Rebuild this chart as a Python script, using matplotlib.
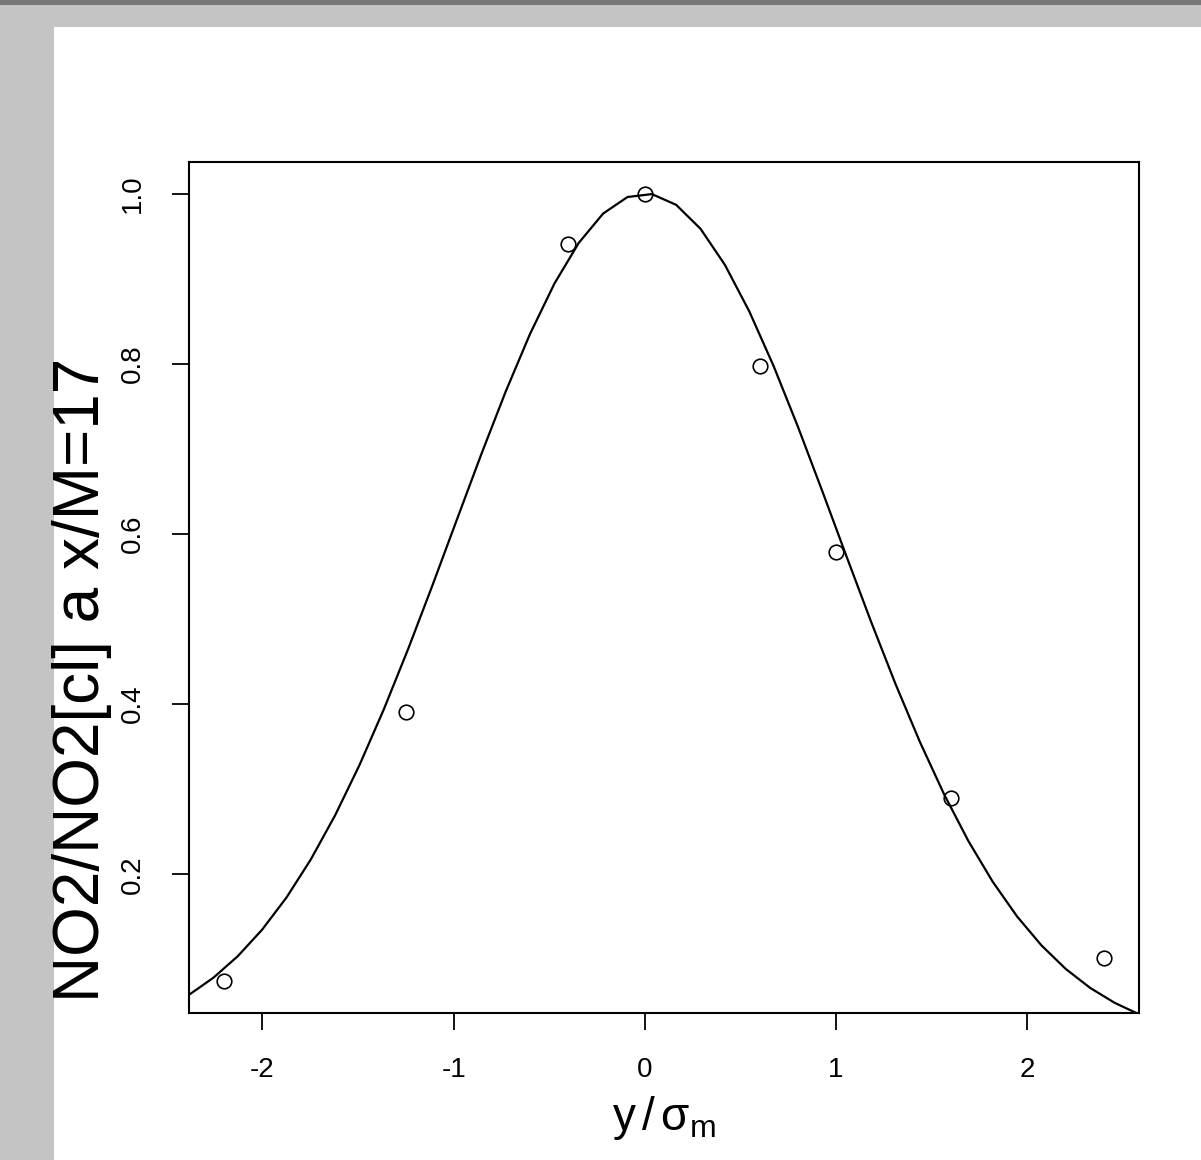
import numpy as np
import matplotlib
matplotlib.use("Agg")
import matplotlib.pyplot as plt
from matplotlib.patches import Rectangle

plt.rcParams['font.family'] = ['Liberation Sans', 'DejaVu Sans']
plt.rcParams['mathtext.fontset'] = 'custom'
plt.rcParams['mathtext.rm'] = 'Liberation Sans'
plt.rcParams['mathtext.it'] = 'Liberation Sans'

# observed points
y_sigma = [-2.2, -1.25, -0.4, 0.0, 0.6, 1.0, 1.6, 2.4]
no2_ratio = [0.074, 0.391, 0.941, 1.0, 0.797, 0.579, 0.290, 0.102]

# fitted gaussian profile, width 1 (in y/sigma_m units)
sigma_fit = 1.0
n_curve = 40

xticks = [-2, -1, 0, 1, 2]
yticks = [0.2, 0.4, 0.6, 0.8, 1.0]

W, H = 1201, 1160
fig = plt.figure(figsize=(W / 100, H / 100), dpi=100, facecolor='#c4c4c4')
# window decoration: dark top bar and white page
fig.patches.append(Rectangle((0, 1 - 5 / H), 1, 5 / H, transform=fig.transFigure,
                             facecolor='#777777', edgecolor='none', zorder=0))
fig.patches.append(Rectangle((54 / W, 0), 1 - 54 / W, 1 - 27 / H, transform=fig.transFigure,
                             facecolor='white', edgecolor='none', zorder=0))

ax = fig.add_axes([189 / W, 1 - 1013 / H, (1139 - 189) / W, (1013 - 162) / H])
ax.set_zorder(2)
ax.set_facecolor('none')

# R style limits: data range extended by 4%
xr = max(y_sigma) - min(y_sigma)
yr = max(no2_ratio) - min(no2_ratio)
xlim = (min(y_sigma) - 0.04 * xr, max(y_sigma) + 0.04 * xr)
ylim = (min(no2_ratio) - 0.04 * yr, max(no2_ratio) + 0.04 * yr)

xc = np.linspace(xlim[0], xlim[1], n_curve)
ax.plot(xc, np.exp(-xc ** 2 / (2 * sigma_fit ** 2)), color='black', lw=1.6)
ax.plot(y_sigma, no2_ratio, 'o', mfc='none', mec='black', ms=10.5, mew=1.2)

ax.set_xlim(xlim)
ax.set_ylim(ylim)
ax.set_xticks(xticks)
ax.set_xticklabels([str(t) for t in xticks])
ax.set_yticks(yticks)
ax.set_yticklabels(['%.1f' % t for t in yticks], rotation=90, va='center')
ax.tick_params(length=12, width=1.3, labelsize=20, pad=20)
ax.tick_params(axis='y', pad=19)
for s in ax.spines.values():
    s.set_linewidth(1.5)

ax.set_xlabel(r'$\mathrm{y}\,/\,\mathrm{\sigma_m}$', fontsize=33)
ax.xaxis.set_label_coords(0.5, -(1118 - 1013) / 851, transform=ax.transAxes)
ax.xaxis.label.set_va('center')
ax.set_ylabel('NO2/NO2[cl] a x/M=17', fontsize=46, va='center')
ax.yaxis.set_label_coords(-(189 - 82) / 950, (1013 - 680) / 851)

fig.savefig('out.png', dpi=100, facecolor=fig.get_facecolor())
